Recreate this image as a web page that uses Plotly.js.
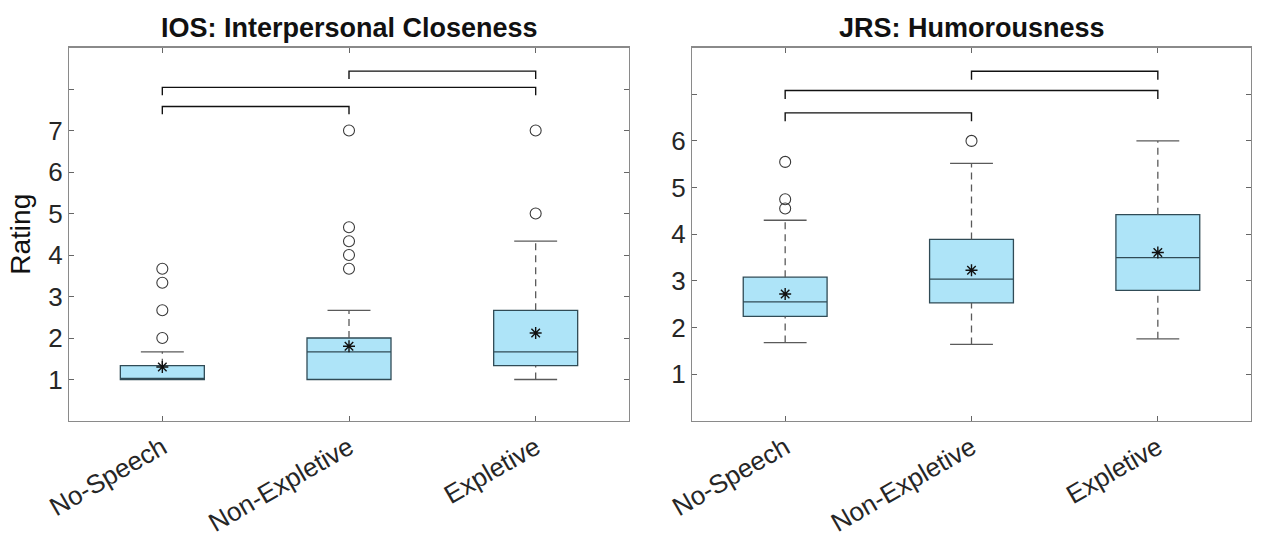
<!DOCTYPE html>
<html>
<head>
<meta charset="utf-8">
<script src="https://cdn.plot.ly/plotly-3.0.1.min.js"></script>
<style>html,body{margin:0;padding:0;background:#fff;}#chart{width:1261px;height:554px;}</style>
</head>
<body>
<div id="chart"></div>
<script>
// ---- data ----
const categories = ["No-Speech", "Non-Expletive", "Expletive"];
const titles = ["IOS: Interpersonal Closeness", "JRS: Humorousness"];

// IOS panel
const iosQ1 = [1.0, 1.0, 1.333];
const iosMedian = [1.0, 1.667, 1.667];
const iosQ3 = [1.333, 2.0, 2.667];
const iosLower = [1.0, 1.0, 1.0];
const iosUpper = [1.667, 2.667, 4.333];
const iosMean = [1.30, 1.80, 2.12];
const iosOutliers = [[2.0, 2.667, 3.333, 3.667], [3.667, 4.0, 4.333, 4.667, 7.0], [5.0, 7.0]];
const iosBracketFrom = [0, 0, 1];
const iosBracketTo = [1, 2, 2];
const iosBracketY = [7.58, 8.04, 8.43];

// JRS panel
const jrsQ1 = [2.24, 2.53, 2.80];
const jrsMedian = [2.55, 3.04, 3.50];
const jrsQ3 = [3.08, 3.89, 4.42];
const jrsLower = [1.68, 1.64, 1.76];
const jrsUpper = [4.30, 5.52, 6.0];
const jrsMean = [2.72, 3.23, 3.61];
const jrsOutliers = [[4.55, 4.75, 5.55], [6.0], []];
const jrsBracketFrom = [0, 0, 1];
const jrsBracketTo = [1, 2, 2];
const jrsBracketY = [6.60, 7.08, 7.49];

const iosTicks = [0,1,2,3,4,5,6,7,8,9];
const iosTickText = ["","1","2","3","4","5","6","7","",""];
const jrsTicks = [0,1,2,3,4,5,6,7,8];
const jrsTickText = ["","1","2","3","4","5","6","",""];

// ---- styling ----
const boxFill = "#aee4f8";
const boxLine = "#304b56";
const whiskerColor = "#5a5a5a";
const capHalf = 0.115;
const bracketDrop = 0.19;
const FONT = "Arial, Liberation Sans, sans-serif";

function panel(xa, ya, q1, med, q3, lo, up, mean, outl, bf, bt, by, dropScale) {
  const xs = categories.map((_, i) => i);
  const traces = [];
  traces.push({
    type: "box", xaxis: xa, yaxis: ya, x: xs,
    q1: q1, median: med, q3: q3, lowerfence: q1, upperfence: q3,
    width: 0.45, whiskerwidth: 0, boxpoints: false,
    fillcolor: boxFill, line: {color: boxLine, width: 1.3},
    hoverinfo: "skip", showlegend: false
  });
  const wx = [], wy = [];
  xs.forEach(i => {
    if (up[i] > q3[i]) { wx.push(i, i, null); wy.push(q3[i], up[i], null); }
    if (lo[i] < q1[i]) { wx.push(i, i, null); wy.push(lo[i], q1[i], null); }
  });
  traces.push({type: "scatter", mode: "lines", xaxis: xa, yaxis: ya, x: wx, y: wy,
    line: {color: whiskerColor, width: 1.3, dash: "7px,5px"}, hoverinfo: "skip", showlegend: false});
  const cx = [], cy = [];
  xs.forEach(i => {
    if (up[i] > q3[i]) { cx.push(i - capHalf, i + capHalf, null); cy.push(up[i], up[i], null); }
    if (lo[i] < q1[i]) { cx.push(i - capHalf, i + capHalf, null); cy.push(lo[i], lo[i], null); }
  });
  traces.push({type: "scatter", mode: "lines", xaxis: xa, yaxis: ya, x: cx, y: cy,
    line: {color: whiskerColor, width: 1.3}, hoverinfo: "skip", showlegend: false});
  const ox = [], oy = [];
  outl.forEach((arr, i) => arr.forEach(v => { ox.push(i); oy.push(v); }));
  traces.push({type: "scatter", mode: "markers", xaxis: xa, yaxis: ya, x: ox, y: oy,
    marker: {symbol: "circle-open", size: 11, color: "#3a3a3a", line: {width: 1.1}},
    hoverinfo: "skip", showlegend: false});
  traces.push({type: "scatter", mode: "markers", xaxis: xa, yaxis: ya, x: xs, y: mean,
    marker: {symbol: "asterisk-open", size: 10, color: "#111", line: {width: 1.4, color: "#111"}},
    hoverinfo: "skip", showlegend: false});
  const bx = [], byy = [];
  bf.forEach((f, k) => {
    const t = bt[k], y = by[k], d = bracketDrop * dropScale;
    bx.push(f, f, t, t, null); byy.push(y - d, y, y, y - d, null);
  });
  traces.push({type: "scatter", mode: "lines", xaxis: xa, yaxis: ya, x: bx, y: byy,
    line: {color: "#111", width: 1.4}, hoverinfo: "skip", showlegend: false});
  return traces;
}

const data = [].concat(
  panel("x", "y", iosQ1, iosMedian, iosQ3, iosLower, iosUpper, iosMean, iosOutliers, iosBracketFrom, iosBracketTo, iosBracketY, 1.0),
  panel("x2", "y2", jrsQ1, jrsMedian, jrsQ3, jrsLower, jrsUpper, jrsMean, jrsOutliers, jrsBracketFrom, jrsBracketTo, jrsBracketY, 0.95)
);

const tickFont = {family: FONT, size: 26, color: "#262626"};
function xAxis(domain, anchor) {
  return {domain: domain, anchor: anchor, range: [-0.5, 2.5],
    tickvals: [0, 1, 2], ticktext: categories, tickangle: -30,
    ticks: "inside", ticklen: 5, tickcolor: "#666", tickwidth: 1,
    showline: true, linecolor: "#8a8a8a", linewidth: 1.2, mirror: "ticks",
    showgrid: false, zeroline: false, tickfont: tickFont, fixedrange: true};
}
function yAxis(domain, anchor, range, tv, tt, title) {
  return {domain: domain, anchor: anchor, range: range,
    tickvals: tv, ticktext: tt,
    ticks: "inside", ticklen: 5, tickcolor: "#666", tickwidth: 1,
    showline: true, linecolor: "#8a8a8a", linewidth: 1.2, mirror: "ticks",
    showgrid: false, zeroline: false, tickfont: tickFont, fixedrange: true,
    title: title ? {text: title, font: {family: FONT, size: 28, color: "#111"}, standoff: 9} : undefined};
}

const yDom = [1 - 421/554, 1 - 47.5/554];
const xDom1 = [69/1261, 629/1261];
const xDom2 = [692/1261, 1251/1261];

const layout = {
  width: 1261, height: 554,
  margin: {l: 0, r: 0, t: 0, b: 0},
  paper_bgcolor: "#fff", plot_bgcolor: "#fff",
  showlegend: false,
  xaxis: xAxis(xDom1, "y"),
  yaxis: yAxis(yDom, "x", [0, 9], iosTicks, iosTickText, "Rating"),
  xaxis2: xAxis(xDom2, "y2"),
  yaxis2: yAxis(yDom, "x2", [0, 8], jrsTicks, jrsTickText, null),
  annotations: [
    {text: "<b>" + titles[0] + "</b>", xref: "paper", yref: "paper",
     x: (xDom1[0] + xDom1[1]) / 2, y: 1 - 28/554, xanchor: "center", yanchor: "middle", showarrow: false,
     font: {family: FONT, size: 27, color: "#111"}},
    {text: "<b>" + titles[1] + "</b>", xref: "paper", yref: "paper",
     x: (xDom2[0] + xDom2[1]) / 2, y: 1 - 28/554, xanchor: "center", yanchor: "middle", showarrow: false,
     font: {family: FONT, size: 27, color: "#111"}}
  ]
};

Plotly.newPlot("chart", data, layout, {displayModeBar: false, staticPlot: true});
</script>
</body>
</html>
